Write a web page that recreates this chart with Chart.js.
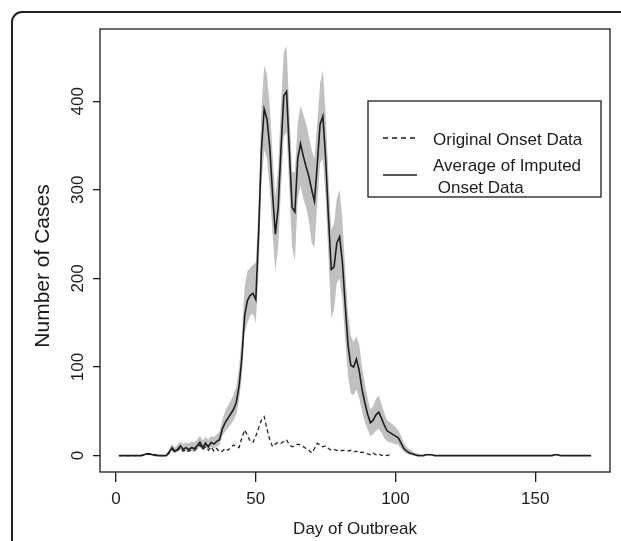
<!DOCTYPE html>
<html>
<head>
<meta charset="utf-8">
<script src="https://cdn.jsdelivr.net/npm/chart.js"></script>
<style>
  html, body { margin: 0; padding: 0; background: #fff; overflow: hidden; }
  #wrap { position: relative; width: 621px; height: 541px; }
  #frame {
    position: absolute; left: 11px; top: 11px; width: 700px; height: 700px;
    border: 2px solid #222; border-radius: 11px;
  }
  #myChart { position: absolute; left: 0; top: 0; }
</style>
</head>
<body>
<div id="wrap">
  <div id="frame"></div>
  <canvas id="myChart" width="621" height="541"></canvas>
</div>
<script>
var xTicks = [0, 50, 100, 150];
var yTicks = [0, 100, 200, 300, 400];

// average of imputed onset data, day 1..170
var avgCases = [
  0,0,0,0,0,0,0,0,0,1,
  2,2,1,1,0,0,0,0,4,9,
  5,7,11,7,9,7,9,8,11,15,
  9,14,10,15,13,16,18,30,37,42,
  47,52,60,78,110,158,175,181,183,176,
  250,345,391,380,348,295,250,280,345,406,
  411,345,280,275,335,352,338,326,315,300,
  287,329,374,383,335,269,210,213,240,247,
  218,170,125,102,100,109,96,75,60,47,
  37,40,46,49,42,34,28,26,24,22,
  20,14,8,5,3,2,1,0,0,0,
  1,1,1,0,0,0,0,0,0,0,
  0,0,0,0,0,0,0,0,0,0,
  0,0,0,0,0,0,0,0,0,0,
  0,0,0,0,0,0,0,0,0,0,
  0,0,0,0,0,0,1,1,0,0,
  0,0,0,0,0,0,0,0,0,0
];
var lowerBand = [
  0,0,0,0,0,0,0,0,0,0,
  1,1,0,0,0,0,0,0,2,6,
  2,4,7,4,5,4,5,4,6,10,
  5,9,6,10,8,10,12,22,27,31,
  35,40,46,62,90,138,150,158,160,150,
  210,305,345,335,300,250,208,235,300,360,
  365,300,235,220,290,305,290,280,265,240,
  235,285,330,335,290,225,155,165,195,200,
  175,130,90,70,68,75,65,50,38,30,
  22,24,28,30,26,20,16,15,14,13,
  12,8,4,2,1,0,0,0,0,0,
  0,0,0,0,0,0,0,0,0,0,
  0,0,0,0,0,0,0,0,0,0,
  0,0,0,0,0,0,0,0,0,0,
  0,0,0,0,0,0,0,0,0,0,
  0,0,0,0,0,0,0,0,0,0,
  0,0,0,0,0,0,0,0,0,0
];
var upperBand = [
  0,0,0,0,0,0,0,0,1,2,
  3,3,2,2,1,1,1,1,7,13,
  9,12,16,13,15,14,16,15,18,22,
  17,21,18,22,21,24,27,40,50,56,
  62,68,78,98,135,190,208,212,215,218,
  285,390,440,430,395,340,292,325,395,455,
  462,390,320,320,375,395,385,375,360,345,
  335,375,420,435,385,315,255,262,290,300,
  265,210,160,135,128,135,125,100,82,65,
  52,56,64,68,58,48,40,38,35,32,
  29,22,14,10,7,5,3,2,1,1,
  2,2,2,1,0,0,0,0,0,0,
  0,0,0,0,0,0,0,0,0,0,
  0,0,0,0,0,0,0,0,0,0,
  0,0,0,0,0,0,0,0,0,0,
  0,0,0,0,0,1,2,2,1,0,
  0,0,0,0,0,0,0,0,0,0
];
// original onset data, day 1..98
var originalOnset = [
  0,0,0,0,0,0,0,0,0,1,
  2,1,1,0,0,0,0,0,3,7,
  4,6,9,5,7,5,7,6,9,12,
  7,10,6,10,5,8,4,5,8,6,
  9,12,10,9,20,29,23,16,15,22,
  31,40,44,30,18,10,13,15,14,16,
  18,12,10,11,13,12,10,8,6,3,
  8,14,12,10,11,8,6,7,6,5,
  6,6,5,6,4,5,3,4,3,2,
  1,3,1,2,0,1,0,1
];

var fontFam = "'Liberation Sans', Arial, sans-serif";
var ink = "#1c1c1c";

function pts(arr) {
  return arr.map(function (v, i) { return { x: i + 1, y: v }; });
}

var boxPlugin = {
  id: 'rbox',
  afterDraw: function (chart) {
    var ctx = chart.ctx, a = chart.chartArea;
    ctx.save();
    // plot frame
    ctx.strokeStyle = ink;
    ctx.lineWidth = 1.3;
    ctx.strokeRect(a.left, a.top, a.right - a.left, a.bottom - a.top);

    // y tick labels, parallel to the axis like R
    var ys = chart.scales.y;
    ctx.fillStyle = ink;
    ctx.font = "17px " + fontFam;
    ctx.textAlign = "center";
    ctx.textBaseline = "middle";
    yTicks.forEach(function (v) {
      var py = ys.getPixelForValue(v);
      ctx.save();
      ctx.translate(78, py);
      ctx.rotate(-Math.PI / 2);
      ctx.fillText(String(v), 0, 0);
      ctx.restore();
    });

    // y axis title
    ctx.save();
    ctx.font = "21px " + fontFam;
    ctx.translate(43, 266);
    ctx.rotate(-Math.PI / 2);
    ctx.fillText("Number of Cases", 0, 0);
    ctx.restore();

    // legend
    ctx.lineWidth = 1.3;
    ctx.strokeRect(368, 101, 233, 96);
    ctx.setLineDash([5, 4]);
    ctx.beginPath(); ctx.moveTo(383, 138); ctx.lineTo(417, 138); ctx.stroke();
    ctx.setLineDash([]);
    ctx.lineWidth = 1.6;
    ctx.beginPath(); ctx.moveTo(383, 175); ctx.lineTo(417, 175); ctx.stroke();
    ctx.textAlign = "left";
    ctx.fillText("Original Onset Data", 433, 140);
    ctx.fillText("Average of Imputed", 433, 166);
    ctx.fillText(" Onset Data", 433, 188);
    ctx.restore();
  }
};

new Chart("myChart", {
  type: "line",
  data: {
    datasets: [{
      data: pts(lowerBand),
      borderWidth: 0,
      borderColor: "rgba(0,0,0,0)",
      fill: false,
      order: 4
    }, {
      data: pts(upperBand),
      borderWidth: 0,
      borderColor: "rgba(0,0,0,0)",
      backgroundColor: "#c0c0c0",
      fill: "-1",
      order: 3
    }, {
      data: pts(originalOnset),
      borderColor: "#222",
      borderWidth: 1.3,
      borderDash: [4, 3],
      fill: false,
      order: 2
    }, {
      data: pts(avgCases),
      borderColor: "#1e1e1e",
      borderWidth: 1.6,
      fill: false,
      order: 1
    }]
  },
  options: {
    responsive: false,
    animation: false,
    parsing: false,
    layout: { padding: { left: 0, right: 11, top: 29, bottom: 0 } },
    elements: { point: { radius: 0 }, line: { tension: 0 } },
    plugins: { legend: { display: false }, tooltip: { enabled: false } },
    scales: {
      x: {
        type: "linear",
        min: -5.76,
        max: 176.76,
        afterBuildTicks: function (s) { s.ticks = xTicks.map(function (v) { return { value: v }; }); },
        afterFit: function (s) { s.height = 69; },
        border: { display: false },
        grid: { drawOnChartArea: false, drawTicks: true, tickLength: 10, color: ink, lineWidth: 1.3 },
        ticks: { color: ink, font: { size: 17, family: fontFam }, padding: 7, maxRotation: 0, autoSkip: false },
        title: { display: true, text: "Day of Outbreak", color: ink, font: { size: 17, family: fontFam }, padding: { top: 0, bottom: 1 } }
      },
      y: {
        type: "linear",
        min: -18.5,
        max: 481.5,
        afterBuildTicks: function (s) { s.ticks = yTicks.map(function (v) { return { value: v }; }); },
        afterFit: function (s) { s.width = 100; },
        border: { display: false },
        grid: { drawOnChartArea: false, drawTicks: true, tickLength: 7, color: ink, lineWidth: 1.3 },
        ticks: { display: false },
        title: { display: false }
      }
    }
  },
  plugins: [boxPlugin]
});
</script>
</body>
</html>
